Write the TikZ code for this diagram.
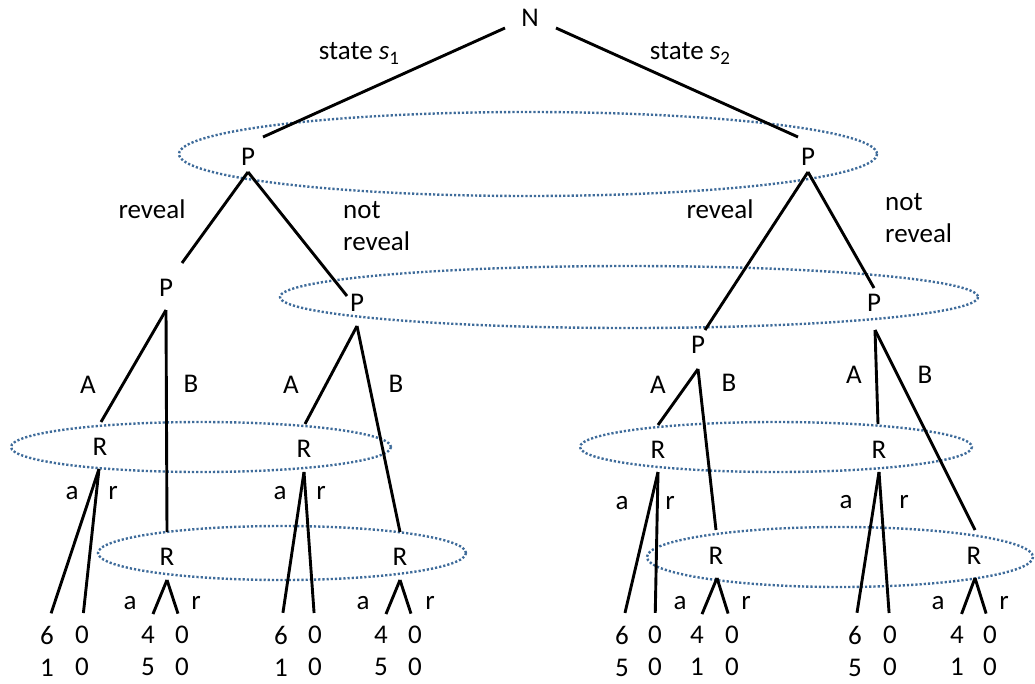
\documentclass[tikz,border=0pt]{standalone}
\usepackage{fontspec}
\setmainfont{Carlito}
\definecolor{setblue}{HTML}{3E6B9A}
\begin{document}
\begin{tikzpicture}[x=1pt,y=-1pt,
  every node/.style={font=\fontsize{27}{32}\selectfont, inner sep=0pt},
  lbl/.style={},
  pay/.style={align=center},
  edge/.style={line width=2.9pt, line cap=butt},
  leafedge/.style={edge, shorten >=13pt},
  infoset/.style={setblue, line width=2.4pt, dash pattern=on 2.2pt off 2pt}]
\useasboundingbox (0,0) rectangle (1035,683);
% information sets
\draw[infoset] (528,154) ellipse [x radius=349, y radius=42];
\draw[infoset] (629,297) ellipse [x radius=349, y radius=31];
\draw[infoset] (201,447) ellipse [x radius=190, y radius=25];
\draw[infoset] (282,553) ellipse [x radius=184, y radius=27];
\draw[infoset] (776,447) ellipse [x radius=196, y radius=25];
\draw[infoset] (840,557) ellipse [x radius=193, y radius=30];
% decision nodes
\node (N) at (530,18) {N};
\node (P1) at (248,157) {P};
\node (P2) at (808,157) {P};
\node (P3) at (166,288) {P};
\node (P4) at (357,303) {P};
\node (P5) at (698,345) {P};
\node (P6) at (874,303) {P};
\node (R1) at (100,447) {R};
\node (R2) at (304,449) {R};
\node (R3) at (167,557) {R};
\node (R4) at (400,557) {R};
\node (R5) at (658,450) {R};
\node (R6) at (716,556) {R};
\node (R7) at (879,450) {R};
\node (R8) at (974,556) {R};
% edge end points
\coordinate (Nl) at (505,28); \coordinate (Nr) at (556,28);
\coordinate (P1in) at (263,137); \coordinate (P1out) at (248,172);
\coordinate (P2in) at (798,137); \coordinate (P2out) at (808,172);
\coordinate (P3in) at (182,263); \coordinate (P3out) at (166,310);
\coordinate (P4in) at (347,296); \coordinate (P4out) at (357,326);
\coordinate (P5in) at (705,330); \coordinate (P5out) at (698,369);
\coordinate (P6in) at (874,288); \coordinate (P6out) at (875,330);
\coordinate (R1in) at (101,422); \coordinate (R1out) at (99,469);
\coordinate (R2in) at (305,424); \coordinate (R2out) at (304,472);
\coordinate (R3in) at (167,532); \coordinate (R3out) at (167,580);
\coordinate (R4in) at (400,532); \coordinate (R4out) at (400,580);
\coordinate (R5in) at (658,425); \coordinate (R5out) at (658,472);
\coordinate (R6in) at (716,530); \coordinate (R6out) at (717,578);
\coordinate (R7in) at (878,424); \coordinate (R7out) at (879,472);
\coordinate (R8in) at (975,530); \coordinate (R8out) at (975,578);
% payoffs
\node[pay] (L1) at (47,651) {6\\1};
\node[pay] (L2) at (82,651) {0\\0};
\node[pay] (L3) at (148,651) {4\\5};
\node[pay] (L4) at (182,651) {0\\0};
\node[pay] (L5) at (281,651) {6\\1};
\node[pay] (L6) at (315,651) {0\\0};
\node[pay] (L7) at (381,651) {4\\5};
\node[pay] (L8) at (415,651) {0\\0};
\node[pay] (L9) at (622,651) {6\\5};
\node[pay] (L10) at (655,651) {0\\0};
\node[pay] (L11) at (697,651) {4\\1};
\node[pay] (L12) at (732,651) {0\\0};
\node[pay] (L13) at (855,651) {6\\5};
\node[pay] (L14) at (890,651) {0\\0};
\node[pay] (L15) at (957,651) {4\\1};
\node[pay] (L16) at (990,651) {0\\0};
% edges
\draw[edge] (Nl) -- (P1in);
\draw[edge] (Nr) -- (P2in);
\draw[edge] (P1out) -- (P3in);
\draw[edge] (P1out) -- (P4in);
\draw[edge] (P2out) -- (P5in);
\draw[edge] (P2out) -- (P6in);
\draw[edge] (P3out) -- (R1in);
\draw[edge] (P3out) -- (R3in);
\draw[edge] (P4out) -- (R2in);
\draw[edge] (P4out) -- (R4in);
\draw[edge] (P5out) -- (R5in);
\draw[edge] (P5out) -- (R6in);
\draw[edge] (P6out) -- (R7in);
\draw[edge] (P6out) -- (R8in);
\draw[leafedge] (R1out) -- (L1.north);
\draw[leafedge] (R1out) -- (L2.north);
\draw[leafedge] (R3out) -- (L3.north);
\draw[leafedge] (R3out) -- (L4.north);
\draw[leafedge] (R2out) -- (L5.north);
\draw[leafedge] (R2out) -- (L6.north);
\draw[leafedge] (R4out) -- (L7.north);
\draw[leafedge] (R4out) -- (L8.north);
\draw[leafedge] (R5out) -- (L9.north);
\draw[leafedge] (R5out) -- (L10.north);
\draw[leafedge] (R6out) -- (L11.north);
\draw[leafedge] (R6out) -- (L12.north);
\draw[leafedge] (R7out) -- (L13.north);
\draw[leafedge] (R7out) -- (L14.north);
\draw[leafedge] (R8out) -- (L15.north);
\draw[leafedge] (R8out) -- (L16.north);
% labels
\node[lbl] (ls1) at (359,53) {state \textit{s}\raisebox{-5pt}{\fontsize{19}{19}\selectfont 1}};
\node[lbl] (ls2) at (690,53) {state \textit{s}\raisebox{-5pt}{\fontsize{19}{19}\selectfont 2}};
\node[lbl] (lrev1) at (152,209) {reveal};
\node[lbl, align=left, anchor=west] (lnot1) at (343,226) {not\\reveal};
\node[lbl] (lrev2) at (720,209) {reveal};
\node[lbl, align=left, anchor=west] (lnot2) at (885,218) {not\\reveal};
\node[lbl] (lA1) at (88,385) {A};
\node[lbl] (lB1) at (191,384) {B};
\node[lbl] (lA2) at (291,385) {A};
\node[lbl] (lB2) at (396,384) {B};
\node[lbl] (lA3) at (658,385) {A};
\node[lbl] (lB3) at (729,383) {B};
\node[lbl] (lA4) at (854,375) {A};
\node[lbl] (lB4) at (925,375) {B};
\node[lbl] (la1) at (72,493) {a};
\node[lbl] (lr1) at (113,493) {r};
\node[lbl] (la2) at (280,493) {a};
\node[lbl] (lr2) at (321,493) {r};
\node[lbl] (la3) at (130,603) {a};
\node[lbl] (lr3) at (196,603) {r};
\node[lbl] (la4) at (363,603) {a};
\node[lbl] (lr4) at (430,603) {r};
\node[lbl] (la5) at (622,503) {a};
\node[lbl] (lr5) at (670,503) {r};
\node[lbl] (la6) at (680,603) {a};
\node[lbl] (lr6) at (746,603) {r};
\node[lbl] (la7) at (846,502) {a};
\node[lbl] (lr7) at (904,502) {r};
\node[lbl] (la8) at (938,603) {a};
\node[lbl] (lr8) at (1004,603) {r};
\end{tikzpicture}
\end{document}
